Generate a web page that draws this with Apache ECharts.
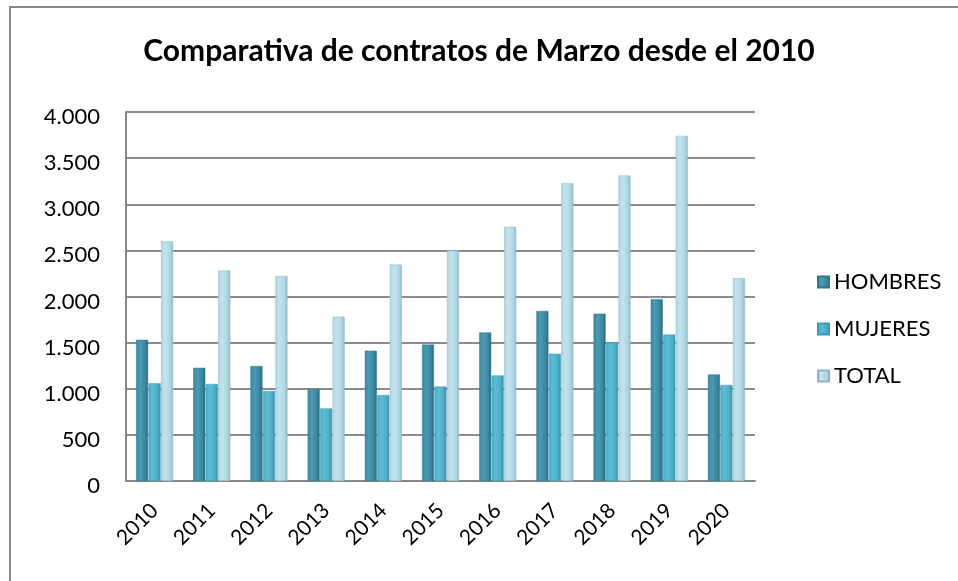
<!DOCTYPE html>
<html>
<head>
    <meta charset="utf-8">
    <title>Comparativa de contratos</title>
    <script src="https://cdn.jsdelivr.net/npm/echarts@6/dist/echarts.min.js"></script>
    <style>
        html, body { margin: 0; padding: 0; background: #fff; }
    </style>
</head>
<body>
    <div id="chartwin" style="width: 958px;height:581px;"></div>
    <script type="text/javascript">
// datos
var years = ['2010','2011','2012','2013','2014','2015','2016','2017','2018','2019','2020'];
var hombres = [1530, 1227, 1246, 998, 1413, 1479, 1610, 1844, 1814, 1971, 1155];
var mujeres = [1060, 1052, 976, 787, 932, 1024, 1144, 1380, 1500, 1588, 1042];
var total = [2600, 2281, 2222, 1781, 2346, 2499, 2757, 3227, 3311, 3741, 2200];
var yTicks = [0, 500, 1000, 1500, 2000, 2500, 3000, 3500, 4000];

var myChart = echarts.init(document.getElementById('chartwin'));

// cilindro: degradado horizontal
function cyl(light, mid, dark) {
    return new echarts.graphic.LinearGradient(0, 0, 1, 0, [
        {offset: 0, color: mid},
        {offset: 0.35, color: light},
        {offset: 0.75, color: mid},
        {offset: 1, color: dark}
    ]);
}

// 4000 -> 4.000, bajado un poco como en el original
function fmt(v) {
    return '{n|' + String(v).replace(/\B(?=(\d{3})+(?!\d))/g, '.') + '}';
}

var font = 'Lato, "Open Sans", sans-serif';

var option = {
    animation: false,
    textStyle: {fontFamily: font},
    title: {
        text: 'Comparativa de contratos de Marzo desde el 2010',
        left: 'center',
        top: 31,
        textStyle: {fontSize: 30, fontWeight: 'bold', color: '#000', fontFamily: font}
    },
    legend: {
        orient: 'vertical',
        left: 812,
        top: 266,
        itemWidth: 11,
        itemHeight: 11,
        itemGap: 25,
        icon: 'rect',
        textStyle: {fontSize: 22, color: '#000', fontFamily: font},
        data: ['HOMBRES', 'MUJERES', 'TOTAL']
    },
    grid: {left: 126, right: 203, top: 112, bottom: 100},
    xAxis: {
        type: 'category',
        data: years,
        axisLine: {lineStyle: {color: '#888', width: 2}},
        axisTick: {show: false},
        axisLabel: {rotate: 45, fontSize: 21, color: '#000', margin: 26, fontFamily: font}
    },
    yAxis: {
        type: 'value',
        min: yTicks[0],
        max: yTicks[yTicks.length - 1],
        interval: 500,
        axisLine: {show: true, lineStyle: {color: '#888', width: 2}},
        axisTick: {show: false},
        splitLine: {lineStyle: {color: '#8c8c8c', width: 2}},
        axisLabel: {
            color: '#000', margin: 26, formatter: fmt,
            rich: {n: {fontSize: 22, color: '#000', fontFamily: font, padding: [10, 0, 0, 0]}}
        }
    },
    series: [
        {
            type: 'bar', name: 'HOMBRES', data: hombres,
            barWidth: 12, barGap: '4%',
            itemStyle: {color: cyl('#4a9bb3', '#3a879f', '#2a6a7e'), borderColor: '#2f7890', borderWidth: 0.5}
        },
        {
            type: 'bar', name: 'MUJERES', data: mujeres,
            barWidth: 12,
            itemStyle: {color: cyl('#5dbdd6', '#4badc7', '#3890a8'), borderColor: '#3d9cb6', borderWidth: 0.5}
        },
        {
            type: 'bar', name: 'TOTAL', data: total,
            barWidth: 12,
            itemStyle: {color: cyl('#c3e3ec', '#aed7e3', '#8fbccb'), borderColor: '#8fb6c4', borderWidth: 0.5}
        }
    ],
    graphic: [
        {
            type: 'rect',
            shape: {x: 10, y: 7, width: 960, height: 600},
            style: {fill: 'none', stroke: '#888', lineWidth: 2},
            silent: true
        }
    ]
};

// colores de la leyenda
option.color = ['#3a879f', '#4badc7', '#aed7e3'];

myChart.setOption(option);
    </script>
</body>
</html>
